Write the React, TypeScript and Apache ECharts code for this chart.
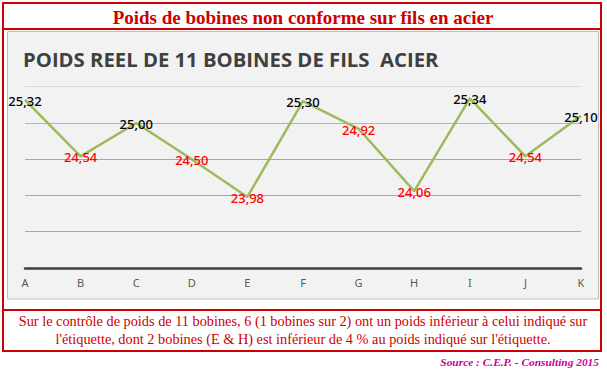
import React, { useEffect, useRef } from "react";
import * as echarts from "echarts";

const categories = ["A", "B", "C", "D", "E", "F", "G", "H", "I", "J", "K"];
const weights = [25.32, 24.54, 25.0, 24.5, 23.98, 25.3, 24.92, 24.06, 25.34, 24.54, 25.1];
const nominalWeight = 25;
const pageTitle = "Poids de bobines non conforme sur fils en acier";
const chartTitle = "POIDS REEL DE 11 BOBINES DE FILS  ACIER";
const footerLines = [
  "Sur le contrôle de poids de 11 bobines, 6 (1 bobines sur 2) ont un poids inférieur à celui indiqué sur",
  "l'étiquette, dont 2 bobines (E & H) est inférieur de 4 % au poids indiqué sur l'étiquette.",
];
const sourceText = "Source : C.E.P. - Consulting 2015";

const fmt = (v: number) => v.toFixed(2).replace(".", ",");

export default function App() {
  const ref = useRef<HTMLDivElement>(null);
  useEffect(() => {
    if (!ref.current) return;
    const chart = echarts.init(ref.current, null, { renderer: "svg" });
    const red = "#cc0000";
    chart.setOption({
      animation: false,
      backgroundColor: "#ffffff",
      graphic: [
        {
          type: "rect",
          z: -10,
          shape: { x: 7.5, y: 31.5, width: 591, height: 267.5 },
          style: { fill: "#f2f2f2", stroke: "#bfbfbf", lineWidth: 1 },
        },
        {
          type: "rect",
          z: 10,
          shape: { x: 3, y: 3, width: 598, height: 348 },
          style: { fill: "none", stroke: red, lineWidth: 2 },
        },
        {
          type: "line",
          z: 10,
          shape: { x1: 3, y1: 29, x2: 601, y2: 29 },
          style: { stroke: red, lineWidth: 2 },
        },
        {
          type: "line",
          z: 10,
          shape: { x1: 3, y1: 310, x2: 601, y2: 310 },
          style: { stroke: red, lineWidth: 2 },
        },
        {
          type: "text",
          z: 10,
          x: 303,
          y: 17,
          style: {
            text: pageTitle,
            align: "center",
            verticalAlign: "middle",
            font: 'bold 19px "Liberation Serif"',
            fill: red,
          },
        },
        {
          type: "text",
          z: 10,
          x: 23,
          y: 58.5,
          style: {
            text: chartTitle,
            align: "left",
            verticalAlign: "middle",
            font: 'bold 20.3px "Open Sans"',
            fill: "#404040",
          },
        },
        ...footerLines.map((t, i) => ({
          type: "text",
          z: 10,
          x: 303,
          y: 321 + i * 18,
          style: {
            text: t,
            align: "center",
            verticalAlign: "middle",
            font: '14.3px "Liberation Serif"',
            fill: red,
          },
        })),
        {
          type: "text",
          z: 10,
          x: 599,
          y: 362,
          style: {
            text: sourceText,
            align: "right",
            verticalAlign: "middle",
            font: 'italic bold 11.4px "Liberation Serif"',
            fill: "#cc0099",
          },
        },
      ],
      grid: { left: 25, right: 26, top: 86.7, bottom: 105, containLabel: false },
      xAxis: {
        type: "category",
        data: categories,
        boundaryGap: false,
        axisLine: { show: true, lineStyle: { color: "#404040", width: 2.5 } },
        axisTick: { show: false },
        axisLabel: {
          color: "#595959",
          fontSize: 11,
          fontFamily: "Noto Sans",
          margin: 9,
        },
        splitLine: { show: false },
      },
      yAxis: {
        type: "value",
        min: 23,
        max: 25.5,
        interval: 0.5,
        axisLine: { show: false },
        axisTick: { show: false },
        axisLabel: { show: false },
        splitLine: {
          show: true,
          lineStyle: {
            color: ["#a6a6a6", "#a6a6a6", "#a6a6a6", "#a6a6a6", "#b4b4b4", "#d9d9d9"],
            width: 1,
          },
        },
      },
      series: [
        {
          type: "line",
          data: weights.map((v) => ({
            value: v,
            label: { color: v < nominalWeight ? "#ff0000" : "#000000" },
          })),
          symbol: "circle",
          symbolSize: 0,
          showSymbol: true,
          lineStyle: { color: "#9bbb59", width: 2.5 },
          itemStyle: { color: "#9bbb59", opacity: 0 },
          label: {
            show: true,
            position: "inside",
            offset: [0, 1],
            fontSize: 13,
            fontWeight: 500,
            fontFamily: "Noto Sans",
            opacity: 1,
            formatter: (p: any) => fmt(p.value),
          },
        },
      ],
    });
    return () => chart.dispose();
  }, []);
  return (
    <div
      ref={ref}
      style={{ position: "fixed", left: 0, top: 0, width: 607, height: 373 }}
    />
  );
}
